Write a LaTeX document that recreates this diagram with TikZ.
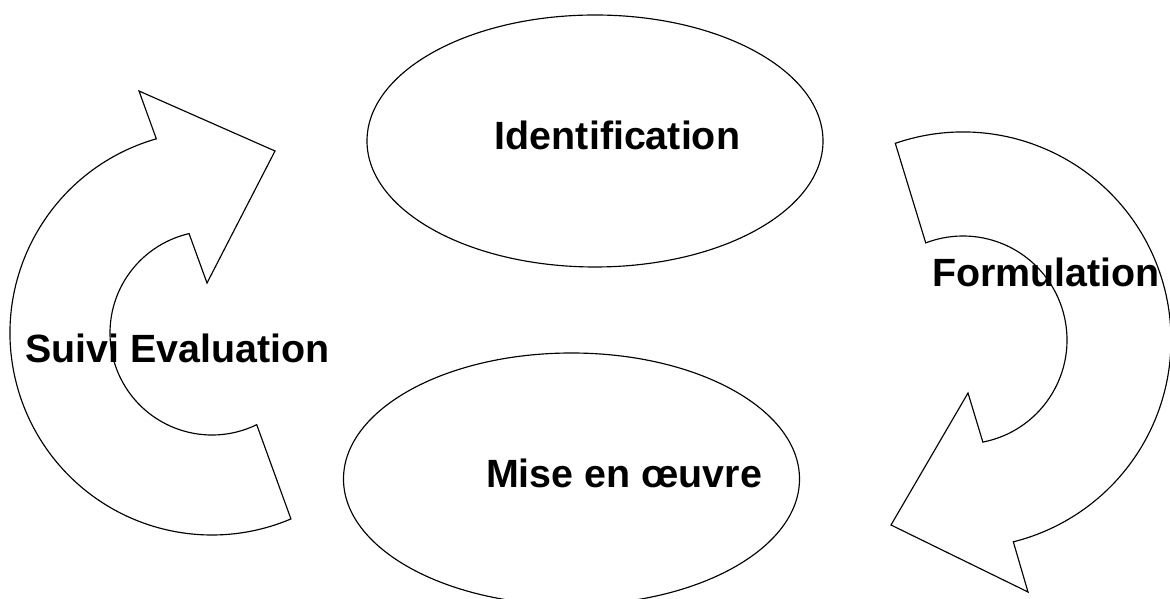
\documentclass[tikz,border=0pt]{standalone}
\usepackage{fontspec}
\setmainfont{Liberation Sans}
\usetikzlibrary{shapes.geometric,calc}
\begin{document}
\begin{tikzpicture}[x=1pt,y=1pt,
  shapeline/.style={draw=black,line width=1.15pt},
  oval/.style={shapeline, ellipse, inner sep=0pt, minimum width=456pt, minimum height=252pt},
  lbl/.style={font=\bfseries\fontsize{39.4}{44}\selectfont, inner sep=0pt, anchor=base}]
\useasboundingbox (0,0) rectangle (1170,599);
% ellipses
\node[oval] (ident) at (595,458) {};
\node[oval] (mise) at (571.5,120) {};
% left circular arrow
\coordinate (c1) at (212,266);
\draw[shapeline] ($(c1)+(106:202)$) arc[start angle=106, end angle=293, radius=202]
  -- ($(c1)+(-64:102)$) arc[start angle=-64, end angle=-257, radius=102]
  -- (207,316) -- (275,448) -- (139,508) -- cycle;
% right circular arrow
\coordinate (c2) at (963,259);
\draw[shapeline] ($(c2)+(109:208)$) arc[start angle=109, end angle=-76, radius=208]
  -- (1028,7) -- (891,74) -- (968,206)
  -- ($(c2)+(-79:104)$) arc[start angle=-79, end angle=111, radius=104]
  -- cycle;
% labels
\node[lbl] (t1) at (617.5,449) {Identification};
\node[lbl] (t2) at (624,111) {Mise en œuvre};
\node[lbl] (t3) at (177.5,236) {Suivi Evaluation};
\node[lbl] (t4) at (1046,312) {Formulation};
\end{tikzpicture}
\end{document}
